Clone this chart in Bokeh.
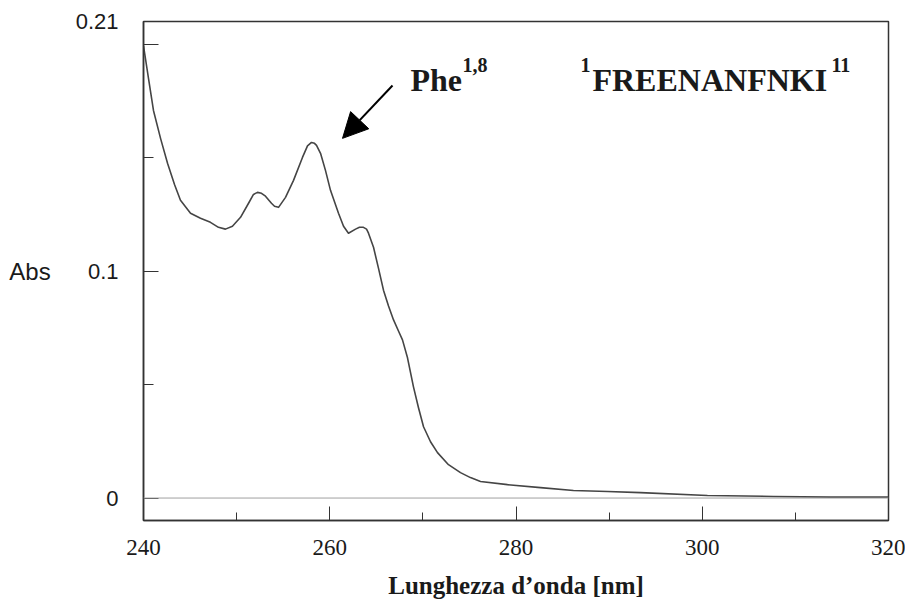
from bokeh.plotting import figure
from bokeh.models import (Range1d, FixedTicker, Label, Arrow, NormalHead, Span)
from bokeh.embed import file_html
from bokeh.resources import INLINE

# ---- data ----
wavelength = [240.00, 240.54, 241.07, 241.83, 242.58, 243.33, 243.97, 245.05, 246.12, 247.19,
              248.05, 248.80, 249.55, 250.42, 251.28, 251.81, 252.24, 252.67, 253.10, 253.74,
              254.07, 254.50, 255.25, 256.11, 257.07, 257.61, 258.04, 258.36, 258.58, 259.01,
              259.54, 260.08, 260.94, 261.48, 262.01, 262.77, 263.19, 263.62, 263.95, 264.16,
              264.70, 265.23, 265.77, 266.31, 266.85, 267.38, 267.81, 268.35, 268.99, 269.53,
              270.07, 270.82, 271.57, 272.75, 274.04, 275.11, 276.19, 279.09, 282.63, 286.17,
              289.83, 293.37, 300.56, 307.65, 313.77, 320.00]
absorbance = [0.1993, 0.1848, 0.1708, 0.1585, 0.1475, 0.1382, 0.1312, 0.1255, 0.1233, 0.1215,
              0.1193, 0.1185, 0.1198, 0.1237, 0.1299, 0.1338, 0.1347, 0.1343, 0.1330, 0.1299,
              0.1286, 0.1281, 0.1325, 0.1400, 0.1501, 0.1552, 0.1567, 0.1563, 0.1554, 0.1519,
              0.1444, 0.1356, 0.1255, 0.1198, 0.1167, 0.1185, 0.1193, 0.1193, 0.1185, 0.1167,
              0.1105, 0.1013, 0.0916, 0.0846, 0.0785, 0.0736, 0.0697, 0.0618, 0.0490, 0.0398,
              0.0314, 0.0248, 0.0200, 0.0147, 0.0112, 0.0090, 0.0073, 0.0059, 0.0046, 0.0033,
              0.0029, 0.0024, 0.0011, 0.0007, 0.0004, 0.0004]

x_major_ticks = [240, 260, 280, 300, 320]
x_minor_ticks = [250, 270, 290, 310]
y_major_ticks = [0, 0.1, 0.2, 0.21]
y_minor_ticks = [0.05, 0.15]
y_tick_labels = {0: "0", 0.1: "0.1", 0.2: "", 0.21: "0.21"}
x_tick_labels = {240: "240", 260: "260", 280: "280", 300: "300", 320: "320"}

x_title = "Lunghezza d\u2019onda [nm]"
y_title = "Abs"
peak_label = "Phe"
peak_sup = "1,8"
seq_pre = "1"
seq_label = "FREENANFNKI"
seq_sup = "11"

INK = "#1a1a1a"
SERIF = "Liberation Serif"
SANS = "Liberation Sans"

p = figure(width=905, height=601, output_backend="svg", toolbar_location=None,
           x_range=Range1d(240, 320), y_range=Range1d(-0.0099, 0.21),
           min_border_left=143, min_border_right=17, min_border_top=21, min_border_bottom=80)

p.grid.visible = False
p.background_fill_color = "white"
p.border_fill_color = "white"
p.outline_line_color = "#333333"
p.outline_line_width = 1.5

# zero baseline
p.add_layout(Span(location=0, dimension="width", line_color="#a0a0a0", line_width=1))

# spectrum
p.line(wavelength, absorbance, line_color="#454545", line_width=1.6, line_join="round")

# x axis
xa = p.xaxis[0]
xa.ticker = FixedTicker(ticks=x_major_ticks, minor_ticks=x_minor_ticks)
xa.major_label_overrides = x_tick_labels
xa.major_tick_in = 14
xa.major_tick_out = 0
xa.minor_tick_in = 8
xa.minor_tick_out = 0
xa.axis_line_color = "#333333"
xa.axis_line_width = 1.5
xa.major_tick_line_color = "#333333"
xa.minor_tick_line_color = "#333333"
xa.major_label_text_font = SERIF
xa.major_label_text_font_size = "23px"
xa.major_label_text_color = INK
xa.major_label_standoff = 19
xa.axis_label = x_title
xa.axis_label_text_font = SERIF
xa.axis_label_text_font_style = "bold"
xa.axis_label_text_font_size = "25px"
xa.axis_label_text_color = INK
xa.axis_label_standoff = 14

# y axis
ya = p.yaxis[0]
ya.ticker = FixedTicker(ticks=y_major_ticks, minor_ticks=y_minor_ticks)
ya.major_label_overrides = y_tick_labels
ya.major_tick_in = 15
ya.major_tick_out = 0
ya.minor_tick_in = 10
ya.minor_tick_out = 0
ya.axis_line_color = "#333333"
ya.axis_line_width = 1.5
ya.major_tick_line_color = "#333333"
ya.minor_tick_line_color = "#333333"
ya.major_label_text_font = SANS
ya.major_label_text_font_size = "22px"
ya.major_label_text_color = INK
ya.major_label_standoff = 25
ya.major_label_orientation = "horizontal"
ya.axis_label = y_title
ya.axis_label_orientation = "horizontal"
ya.axis_label_text_font = SANS
ya.axis_label_text_font_style = "normal"
ya.axis_label_text_font_size = "24px"
ya.axis_label_text_color = INK
ya.axis_label_standoff = 22

# annotations
p.add_layout(Label(x=268.67, y=0.184, text=peak_label, text_align="left",
                   text_baseline="alphabetic", text_font=SERIF, text_font_style="bold",
                   text_font_size="32px", text_color=INK))
p.add_layout(Label(x=268.67, y=0.184, text=peak_sup, x_offset=52, y_offset=15,
                   text_align="left", text_baseline="alphabetic", text_font=SERIF,
                   text_font_style="bold", text_font_size="20px", text_color=INK))

p.add_layout(Label(x=288.21, y=0.184, text=seq_label, text_align="left",
                   text_baseline="alphabetic", text_font=SERIF, text_font_style="bold",
                   text_font_size="32px", text_color=INK))
p.add_layout(Label(x=288.21, y=0.184, text=seq_pre, x_offset=-2, y_offset=15,
                   text_align="right", text_baseline="alphabetic", text_font=SERIF,
                   text_font_style="bold", text_font_size="20px", text_color=INK))
p.add_layout(Label(x=288.21, y=0.184, text=seq_sup, x_offset=239, y_offset=15,
                   text_align="left", text_baseline="alphabetic", text_font=SERIF,
                   text_font_style="bold", text_font_size="20px", text_color=INK))

p.add_layout(Arrow(x_start=266.74, y_start=0.1818, x_end=261.37, y_end=0.1585,
                   line_color="black", line_width=2,
                   end=NormalHead(size=25, fill_color="black", line_color="black")))

open("out.html", "w").write(file_html(p, INLINE))
